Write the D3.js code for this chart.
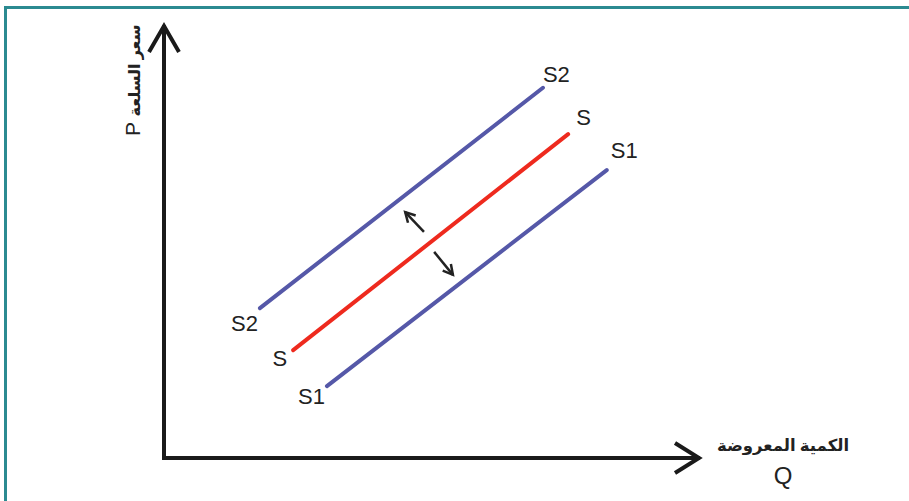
<!DOCTYPE html>
<html>
<head>
<meta charset="utf-8">
<script src="https://cdn.jsdelivr.net/npm/d3@7"></script>
<style>
  body { margin: 0; background: #ffffff; }
  svg { display: block; }
</style>
</head>
<body>
<div id="chart"></div>
<script>
// supply curve shift diagram: S moves to S1 (right) or S2 (left)

var width = 909, height = 501,
    origin = {x: 164, y: 458},
    axisEnd = {x: 700, y: 25};

// curves in data units (0..100 on each axis)
var curveNames = ["S2", "S", "S1"];
var curveStart = [[17.9, 34.6], [24.1, 24.9], [30.4, 16.6]];
var curveEnd   = [[70.7, 85.5], [75.4, 74.8], [82.6, 66.5]];
var curveColors = ["#5558a8", "#ee2a1e", "#5558a8"];
// label nudges (px) at the start / end of each curve
var startNudge = [[-2, 23], [-6, 16], [-2, 18]];
var endNudge   = [[0, -6], [8, -9], [4, -12]];

// small shift arrows (from, to)
var shiftFrom = [[48.5, 52.2], [50.4, 47.6]];
var shiftTo   = [[45.0, 56.8], [53.9, 42.3]];

var yLabel = ["P", "سعر السلعة"];
var xLabel = ["الكمية المعروضة", "Q"];

var svg = d3.select("#chart").append("svg")
  .attr("width", width)
  .attr("height", height);

// frame
svg.append("path")
  .attr("d", "M5.5," + height + " V7.5 H" + width)
  .attr("fill", "none")
  .attr("stroke", "#2b8a91")
  .attr("stroke-width", 3);

var xScale = d3.scaleLinear().domain([0, 100]).range([origin.x, axisEnd.x]);
var yScale = d3.scaleLinear().domain([0, 100]).range([origin.y, axisEnd.y]);

// axes with open arrowheads
var axisG = svg.append("g")
  .attr("fill", "none")
  .attr("stroke", "#1a1a1a")
  .attr("stroke-width", 4)
  .attr("stroke-linejoin", "miter");

axisG.append("path")
  .attr("d", "M" + xScale(0) + "," + yScale(100) + " V" + yScale(0) + " H" + xScale(100));
axisG.append("path")
  .attr("d", "M" + (xScale(0) - 15) + "," + (yScale(100) + 27) + " L" + xScale(0) + "," + (yScale(100) + 1) +
             " L" + (xScale(0) + 15) + "," + (yScale(100) + 27));
axisG.append("path")
  .attr("d", "M" + (xScale(100) - 25) + "," + (yScale(0) - 15) + " L" + (xScale(100) - 1) + "," + yScale(0) +
             " L" + (xScale(100) - 25) + "," + (yScale(0) + 15));

// supply curves
var curves = curveNames.map(function(n, i){
  return {name: n, x1: curveStart[i][0], y1: curveStart[i][1],
          x2: curveEnd[i][0], y2: curveEnd[i][1], color: curveColors[i],
          sn: startNudge[i], en: endNudge[i]};
});

svg.selectAll("line.curve")
  .data(curves)
  .join("line")
  .attr("class", "curve")
  .attr("x1", d => xScale(d.x1))
  .attr("y1", d => yScale(d.y1))
  .attr("x2", d => xScale(d.x2))
  .attr("y2", d => yScale(d.y2))
  .attr("stroke", d => d.color)
  .attr("stroke-width", 4)
  .attr("stroke-linecap", "round");

// labels at both ends
svg.selectAll("text.startLbl")
  .data(curves)
  .join("text")
  .attr("class", "startLbl")
  .attr("x", d => xScale(d.x1) + d.sn[0])
  .attr("y", d => yScale(d.y1) + d.sn[1])
  .attr("text-anchor", "end")
  .attr("font-family", "Liberation Sans, Arial, sans-serif")
  .attr("font-size", 22)
  .attr("fill", "#222")
  .text(d => d.name);

svg.selectAll("text.endLbl")
  .data(curves)
  .join("text")
  .attr("class", "endLbl")
  .attr("x", d => xScale(d.x2) + d.en[0])
  .attr("y", d => yScale(d.y2) + d.en[1])
  .attr("text-anchor", "start")
  .attr("font-family", "Liberation Sans, Arial, sans-serif")
  .attr("font-size", 22)
  .attr("fill", "#222")
  .text(d => d.name);

// shift arrows
var shifts = shiftFrom.map(function(f, i){
  return {x1: f[0], y1: f[1], x2: shiftTo[i][0], y2: shiftTo[i][1]};
});

var arrowG = svg.append("g")
  .attr("fill", "none")
  .attr("stroke", "#222")
  .attr("stroke-width", 2.5);

shifts.forEach(function(d){
  var x1 = xScale(d.x1), y1 = yScale(d.y1),
      x2 = xScale(d.x2), y2 = yScale(d.y2),
      ang = Math.atan2(y2 - y1, x2 - x1), len = 11, spread = 0.5;
  arrowG.append("line")
    .attr("x1", x1).attr("y1", y1).attr("x2", x2).attr("y2", y2);
  arrowG.append("path")
    .attr("d", "M" + (x2 - len * Math.cos(ang - spread)) + "," + (y2 - len * Math.sin(ang - spread)) +
               " L" + x2 + "," + y2 +
               " L" + (x2 - len * Math.cos(ang + spread)) + "," + (y2 - len * Math.sin(ang + spread)));
});

// axis titles
var yt = svg.append("text")
  .attr("transform", "translate(140,136) rotate(-90)")
  .attr("text-anchor", "start")
  .attr("font-family", "Noto Sans, DejaVu Sans, sans-serif")
  .attr("fill", "#222")
  .attr("direction", "ltr");
yt.append("tspan")
  .attr("font-family", "Liberation Sans, Arial, sans-serif")
  .attr("font-size", 21)
  .text(yLabel[0] + " ");
yt.append("tspan")
  .attr("font-size", 16)
  .attr("font-weight", "bold")
  .text(yLabel[1]);

svg.append("text")
  .attr("x", 783)
  .attr("y", 451)
  .attr("text-anchor", "middle")
  .attr("font-family", "Noto Sans, DejaVu Sans, sans-serif")
  .attr("font-size", 16.5)
  .attr("font-weight", "bold")
  .attr("fill", "#222")
  .text(xLabel[0]);

svg.append("text")
  .attr("x", 783)
  .attr("y", 484)
  .attr("text-anchor", "middle")
  .attr("font-family", "Liberation Sans, Arial, sans-serif")
  .attr("font-size", 24)
  .attr("fill", "#222")
  .text(xLabel[1]);
</script>
</body>
</html>
